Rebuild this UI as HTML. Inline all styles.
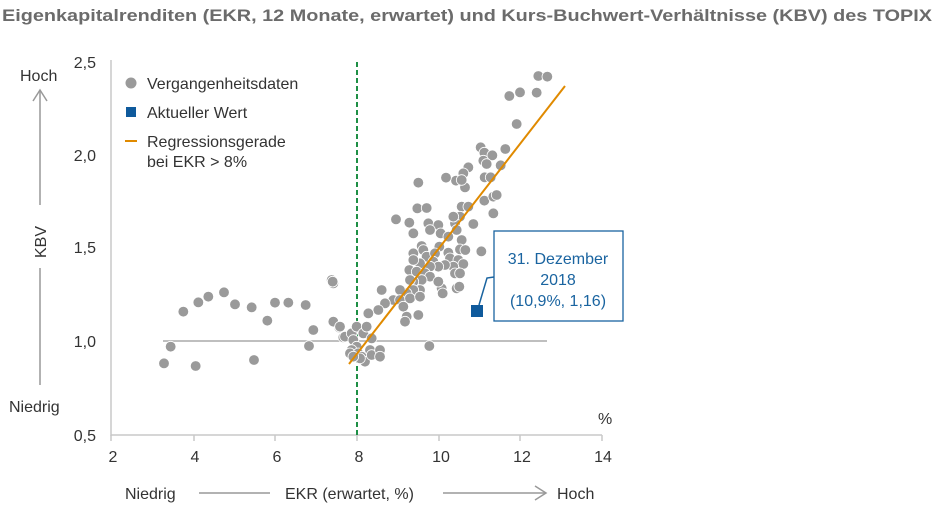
<!DOCTYPE html>
<html><head><meta charset="utf-8"><style>
html,body{margin:0;padding:0;background:#fff}
svg{display:block}
text{font-family:"Liberation Sans",sans-serif}
</style></head><body>
<svg width="940" height="521" viewBox="0 0 940 521" xmlns="http://www.w3.org/2000/svg">
<text x="2" y="21" font-size="17" font-weight="bold" fill="#6b6b6b" textLength="930" lengthAdjust="spacingAndGlyphs">Eigenkapitalrenditen (EKR, 12 Monate, erwartet) und Kurs-Buchwert-Verhältnisse (KBV) des TOPIX</text>
<!-- axes -->
<line x1="111" y1="60" x2="111" y2="436" stroke="#c8c8c8" stroke-width="1.5"/>
<line x1="111" y1="435" x2="602" y2="435" stroke="#c8c8c8" stroke-width="1.5"/>
<g stroke="#c8c8c8" stroke-width="1.5">
<line x1="111" y1="435" x2="111" y2="441"/><line x1="194" y1="435" x2="194" y2="441"/><line x1="275" y1="435" x2="275" y2="441"/><line x1="357" y1="435" x2="357" y2="441"/><line x1="439" y1="435" x2="439" y2="441"/><line x1="520" y1="435" x2="520" y2="441"/><line x1="602" y1="435" x2="602" y2="441"/>
</g>
<g font-size="16" fill="#333" text-anchor="end">
<text x="96" y="68">2,5</text><text x="96" y="161">2,0</text><text x="96" y="253">1,5</text><text x="96" y="347">1,0</text><text x="96" y="441">0,5</text>
</g>
<g font-size="16" fill="#333" text-anchor="middle">
<text x="113" y="462">2</text><text x="195" y="462">4</text><text x="277" y="462">6</text><text x="359" y="462">8</text><text x="441" y="462">10</text><text x="522" y="462">12</text><text x="603" y="462">14</text>
</g>
<text x="598" y="424" font-size="16" fill="#333">%</text>
<!-- y axis labels -->
<text x="20" y="81" font-size="16" fill="#333">Hoch</text>
<line x1="40" y1="90" x2="40" y2="205" stroke="#999" stroke-width="1.5"/>
<polyline points="33,101 40,90 47,101" fill="none" stroke="#999" stroke-width="1.5"/>
<text transform="translate(46,258) rotate(-90)" font-size="16" fill="#333">KBV</text>
<line x1="40" y1="268" x2="40" y2="385" stroke="#999" stroke-width="1.5"/>
<text x="9" y="412" font-size="16" fill="#333">Niedrig</text>
<!-- x axis labels -->
<text x="125" y="499" font-size="16" fill="#333">Niedrig</text>
<line x1="199" y1="493" x2="270" y2="493" stroke="#999" stroke-width="1.5"/>
<text x="285" y="499" font-size="16" fill="#333">EKR (erwartet, %)</text>
<line x1="443" y1="493" x2="546" y2="493" stroke="#999" stroke-width="1.5"/>
<polyline points="535,486 546,493 535,500" fill="none" stroke="#999" stroke-width="1.5"/>
<text x="557" y="499" font-size="16" fill="#333">Hoch</text>
<!-- reference lines -->
<line x1="163" y1="341" x2="547" y2="341" stroke="#aaa" stroke-width="1.5"/>
<line x1="357" y1="62" x2="357" y2="435" stroke="#1e8f45" stroke-width="2" stroke-dasharray="5,3"/>
<!-- points -->
<g fill="#9a9a9a" stroke="#fff" stroke-width="2.4" transform="translate(0,50) scale(0.33333)">
<circle cx="492" cy="940" r="16"/><circle cx="512" cy="890" r="16"/><circle cx="550" cy="785" r="16"/><circle cx="595" cy="757" r="16"/><circle cx="625" cy="740" r="16"/><circle cx="672" cy="727" r="16"/><circle cx="705" cy="763" r="16"/><circle cx="755" cy="772" r="16"/><circle cx="802" cy="812" r="16"/><circle cx="762" cy="930" r="16"/><circle cx="587" cy="948" r="16"/><circle cx="825" cy="758" r="16"/><circle cx="865" cy="758" r="16"/><circle cx="917" cy="765" r="16"/><circle cx="940" cy="840" r="16"/><circle cx="927" cy="888" r="16"/><circle cx="995" cy="690" r="16"/><circle cx="1000" cy="700" r="16"/><circle cx="1000" cy="815" r="16"/><circle cx="1018" cy="833" r="16"/><circle cx="1030" cy="862" r="16"/>
</g>
<g fill="#9a9a9a" stroke="#fff" stroke-width="2.4" transform="translate(320,60) scale(0.33333)">
<circle cx="655" cy="48" r="16"/><circle cx="682" cy="50" r="16"/><circle cx="568" cy="108" r="16"/><circle cx="600" cy="97" r="16"/><circle cx="650" cy="98" r="16"/><circle cx="590" cy="192" r="16"/><circle cx="482" cy="262" r="16"/><circle cx="556" cy="267" r="16"/><circle cx="493" cy="278" r="16"/><circle cx="517" cy="286" r="16"/><circle cx="490" cy="302" r="16"/><circle cx="500" cy="312" r="16"/><circle cx="542" cy="316" r="16"/><circle cx="445" cy="322" r="16"/><circle cx="430" cy="340" r="16"/><circle cx="408" cy="362" r="16"/><circle cx="378" cy="353" r="16"/><circle cx="435" cy="382" r="16"/><circle cx="425" cy="360" r="16"/><circle cx="494" cy="352" r="16"/><circle cx="512" cy="352" r="16"/><circle cx="295" cy="368" r="16"/><circle cx="292" cy="445" r="16"/><circle cx="320" cy="444" r="16"/><circle cx="425" cy="440" r="16"/><circle cx="445" cy="440" r="16"/><circle cx="420" cy="470" r="16"/><circle cx="460" cy="492" r="16"/><circle cx="493" cy="422" r="16"/><circle cx="520" cy="410" r="16"/><circle cx="530" cy="405" r="16"/><circle cx="520" cy="460" r="16"/><circle cx="228" cy="478" r="16"/><circle cx="268" cy="488" r="16"/><circle cx="325" cy="490" r="16"/><circle cx="355" cy="495" r="16"/><circle cx="362" cy="520" r="16"/><circle cx="405" cy="490" r="16"/><circle cx="400" cy="470" r="16"/><circle cx="280" cy="520" r="16"/><circle cx="330" cy="510" r="16"/><circle cx="385" cy="530" r="16"/><circle cx="410" cy="510" r="16"/><circle cx="425" cy="540" r="16"/><circle cx="358" cy="560" r="16"/><circle cx="305" cy="558" r="16"/><circle cx="280" cy="580" r="16"/><circle cx="310" cy="570" r="16"/><circle cx="320" cy="590" r="16"/><circle cx="345" cy="580" r="16"/><circle cx="340" cy="605" r="16"/><circle cx="385" cy="578" r="16"/><circle cx="420" cy="568" r="16"/><circle cx="436" cy="570" r="16"/><circle cx="484" cy="574" r="16"/><circle cx="390" cy="595" r="16"/><circle cx="415" cy="600" r="16"/><circle cx="430" cy="612" r="16"/><circle cx="400" cy="620" r="16"/><circle cx="375" cy="615" r="16"/><circle cx="355" cy="620" r="16"/><circle cx="330" cy="620" r="16"/><circle cx="300" cy="610" r="16"/><circle cx="280" cy="600" r="16"/><circle cx="268" cy="630" r="16"/><circle cx="290" cy="635" r="16"/><circle cx="315" cy="640" r="16"/><circle cx="330" cy="650" r="16"/><circle cx="305" cy="660" r="16"/><circle cx="280" cy="665" r="16"/><circle cx="270" cy="660" r="16"/><circle cx="300" cy="690" r="16"/><circle cx="280" cy="690" r="16"/><circle cx="260" cy="700" r="16"/><circle cx="240" cy="690" r="16"/><circle cx="220" cy="720" r="16"/><circle cx="240" cy="720" r="16"/><circle cx="270" cy="715" r="16"/><circle cx="300" cy="710" r="16"/><circle cx="250" cy="740" r="16"/><circle cx="185" cy="690" r="16"/><circle cx="195" cy="730" r="16"/><circle cx="175" cy="750" r="16"/><circle cx="145" cy="760" r="16"/><circle cx="260" cy="770" r="16"/><circle cx="255" cy="785" r="16"/><circle cx="295" cy="765" r="16"/><circle cx="365" cy="685" r="16"/><circle cx="355" cy="665" r="16"/><circle cx="368" cy="700" r="16"/><circle cx="410" cy="685" r="16"/><circle cx="418" cy="680" r="16"/><circle cx="405" cy="640" r="16"/><circle cx="420" cy="640" r="16"/><circle cx="38" cy="665" r="16"/><circle cx="40" cy="785" r="16"/><circle cx="60" cy="800" r="16"/><circle cx="75" cy="830" r="16"/><circle cx="95" cy="820" r="16"/><circle cx="110" cy="800" r="16"/><circle cx="130" cy="820" r="16"/><circle cx="140" cy="800" r="16"/><circle cx="155" cy="835" r="16"/><circle cx="100" cy="840" r="16"/><circle cx="110" cy="860" r="16"/><circle cx="95" cy="870" r="16"/><circle cx="90" cy="880" r="16"/><circle cx="115" cy="880" r="16"/><circle cx="125" cy="890" r="16"/><circle cx="135" cy="905" r="16"/><circle cx="150" cy="870" r="16"/><circle cx="155" cy="885" r="16"/><circle cx="180" cy="870" r="16"/><circle cx="180" cy="890" r="16"/><circle cx="328" cy="858" r="16"/><circle cx="120" cy="895" r="16"/><circle cx="100" cy="890" r="16"/>
</g>
<!-- regression -->
<line x1="349" y1="364" x2="565" y2="86" stroke="#e08a00" stroke-width="2"/>
<!-- current value & callout -->
<polyline points="479,305 487,278 494,277" fill="none" stroke="#1a64a0" stroke-width="1.5"/>
<rect x="471" y="305" width="12" height="12" fill="#0f5a9c"/>
<rect x="494" y="231" width="129" height="90" fill="#fff" stroke="#1a64a0" stroke-width="1.3"/>
<g font-size="16" fill="#1a64a0" text-anchor="middle">
<text x="558" y="264">31. Dezember</text><text x="558" y="285">2018</text><text x="558" y="306">(10,9%, 1,16)</text>
</g>
<!-- legend -->
<circle cx="131" cy="83" r="5.5" fill="#9a9a9a"/>
<text x="147" y="89" font-size="16" fill="#333">Vergangenheitsdaten</text>
<rect x="126" y="107" width="10" height="10" fill="#0f5a9c"/>
<text x="147" y="118" font-size="16" fill="#333">Aktueller Wert</text>
<line x1="125" y1="141" x2="137" y2="141" stroke="#e08a00" stroke-width="2"/>
<text x="147" y="147" font-size="16" fill="#333">Regressionsgerade</text>
<text x="147" y="167" font-size="16" fill="#333">bei EKR &gt; 8%</text>
</svg>
</body></html>
